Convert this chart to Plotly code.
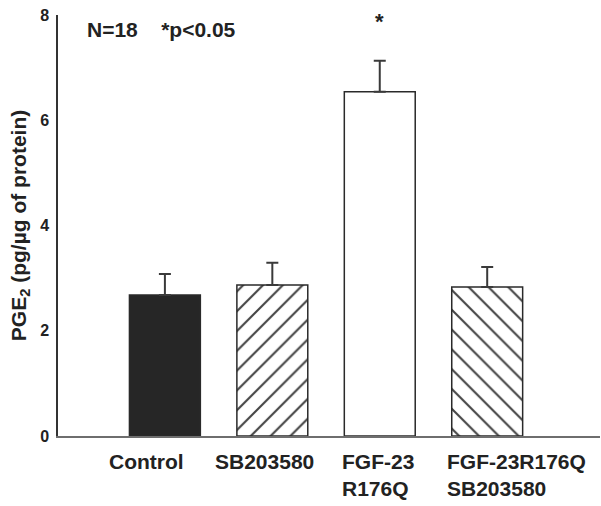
import plotly.graph_objects as go

categories = ["Control", "SB203580", "FGF-23<br>R176Q", "FGF-23R176Q<br>SB203580"]
means = [2.68, 2.87, 6.54, 2.83]
sems = [0.40, 0.42, 0.59, 0.38]
y_ticks = [0, 2, 4, 6, 8]

fill_colors = ["#262626", "white", "white", "white"]
patterns = ["", "/", "", "\\"]
label_shift = [-58, -59, -40, -42]

FONT = "Liberation Sans, Arial, sans-serif"
TXT = "#222222"
x = list(range(len(categories)))

fig = go.Figure()
fig.add_trace(go.Bar(
    x=x, y=means, width=0.66,
    marker=dict(color=fill_colors,
                line=dict(color="#2a2a2a", width=1.5),
                pattern=dict(shape=patterns, fgcolor="#000000", bgcolor="white",
                             fgopacity=1, size=14, solidity=0.15)),
    error_y=dict(type="data", symmetric=False, array=sems,
                 arrayminus=[0] * len(sems), color="#3a3a3a",
                 thickness=2, width=6),
    showlegend=False,
))

for i, lab in enumerate(categories):
    fig.add_annotation(x=i, y=0, xref="x", yref="y", text=f"<b>{lab}</b>",
                       showarrow=False, xanchor="left", yanchor="top", align="left",
                       xshift=label_shift[i], yshift=-12,
                       font=dict(family=FONT, size=21, color=TXT))

fig.add_annotation(x=2, y=means[2] + sems[2], xref="x", yref="y", text="<b>*</b>",
                   showarrow=False, yanchor="bottom", yshift=25,
                   font=dict(family=FONT, size=22, color=TXT))
fig.add_annotation(x=0.05, y=0.965, xref="paper", yref="paper",
                   text="<b>N=18&nbsp;&nbsp;&nbsp;&nbsp;*p<0.05</b>", showarrow=False,
                   xanchor="left", yanchor="middle",
                   font=dict(family=FONT, size=21, color=TXT))

fig.update_layout(
    width=601, height=506,
    margin=dict(l=58, r=1, t=15, b=70),
    plot_bgcolor="white", paper_bgcolor="white",
    font=dict(family=FONT, color=TXT),
    xaxis=dict(range=[-0.995, 4.05], showticklabels=False, showgrid=False,
               zeroline=False, showline=True, linecolor="#6e6e6e", linewidth=2,
               ticks="", automargin=False),
    yaxis=dict(range=[0, 8], tickvals=y_ticks,
               ticktext=[f"<b>{v}</b>" for v in y_ticks],
               showgrid=False, zeroline=False, showline=True,
               linecolor="#333333", linewidth=1.5, ticks="", automargin=False,
               ticklabelstandoff=4,
               tickfont=dict(family=FONT, size=16, color=TXT),
               title=dict(text="<b>PGE<sub>2</sub> (pg/µg of protein)</b>",
                          font=dict(family=FONT, size=21, color=TXT),
                          standoff=8)),
)

fig.write_html("out.html", config={"displayModeBar": False},
               post_script="document.body.style.margin='0';document.body.style.padding='0';")
